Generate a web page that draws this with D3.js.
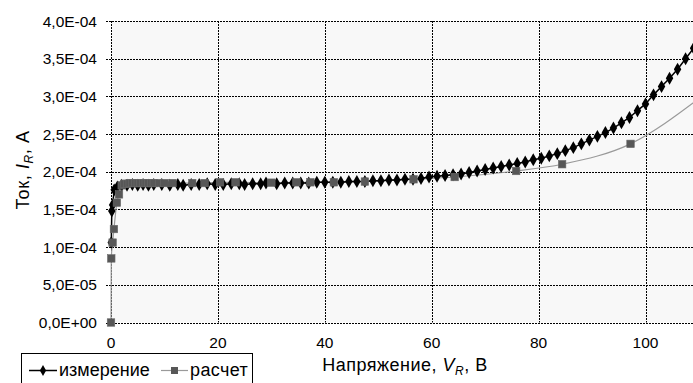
<!DOCTYPE html>
<html>
<head>
<meta charset="utf-8">
<script src="https://cdn.jsdelivr.net/npm/d3@7"></script>
<style>
  body { margin: 0; background: #fff; }
  svg text { font-family: "Liberation Sans", Arial, sans-serif; fill: #000; }
</style>
</head>
<body>
<div id="display"></div>
<script>
// measured reverse current, [V, I * 1e-4]
var measuredV = [0.05, 0.15, 0.3, 0.6, 1.2, 2.0, 3.0, 4.0, 5.0, 6.0, 7.0, 8.0, 9.5, 11.0, 12.5, 13.5,
    15.0, 16.5, 18.0, 19.5, 21.0, 22.5, 24.0, 25.0, 26.5, 28.0, 29.0, 31.0, 32.5, 34.0, 35.5, 37.0,
    38.5, 40.0, 41.5, 43.0, 44.5, 46.0, 47.5, 49.0, 50.5, 52.0, 53.5, 55.0, 56.5, 58.0, 59.5, 61.0,
    62.5, 64.0, 65.5, 67.0, 68.5, 70.0, 71.5, 73.0, 74.5, 76.0, 77.5, 79.0, 80.5, 82.0, 83.5, 85.0,
    86.5, 88.0, 89.5, 91.0, 92.5, 94.0, 95.5, 97.0, 98.5, 100.0, 101.5, 103.0, 104.5, 106.0, 107.5, 109.0];
var measuredI = [1.06, 1.48, 1.56, 1.76, 1.80, 1.82, 1.82, 1.83, 1.82, 1.83, 1.82, 1.83, 1.83, 1.82, 1.83, 1.82,
    1.83, 1.83, 1.84, 1.83, 1.83, 1.84, 1.84, 1.83, 1.84, 1.84, 1.85, 1.84, 1.85, 1.85, 1.85, 1.85,
    1.86, 1.86, 1.86, 1.86, 1.87, 1.87, 1.87, 1.88, 1.88, 1.89, 1.89, 1.90, 1.90, 1.91, 1.93, 1.94,
    1.95, 1.96, 1.97, 1.99, 2.01, 2.03, 2.05, 2.07, 2.09, 2.11, 2.13, 2.16, 2.18, 2.21, 2.24, 2.28,
    2.32, 2.37, 2.42, 2.47, 2.52, 2.58, 2.65, 2.72, 2.81, 2.90, 3.02, 3.13, 3.24, 3.36, 3.50, 3.64];

// calculated reverse current
var calcV = [0, 0.05, 0.3, 0.55, 1.1, 1.5, 2.0, 2.5, 3.0, 3.5, 4.0, 4.5, 5.0, 5.5, 6.0, 6.5, 7.0, 7.5,
    8.0, 9.0, 10.0, 11.5, 15.2, 17.5, 20.4, 23.3, 30.0, 34.7, 37.3, 41.7, 47.5, 56.6, 64.3, 75.8,
    84.4, 97.2, 110.0];
var calcI = [0, 0.85, 1.06, 1.24, 1.59, 1.70, 1.82, 1.84, 1.84, 1.85, 1.85, 1.85, 1.85, 1.85, 1.85, 1.85, 1.85, 1.85,
    1.85, 1.85, 1.85, 1.85, 1.85, 1.85, 1.86, 1.86, 1.855, 1.86, 1.86, 1.86, 1.87, 1.90, 1.93, 2.01,
    2.10, 2.37, 2.97];

var yTicks = [0, 0.5, 1.0, 1.5, 2.0, 2.5, 3.0, 3.5, 4.0];
var yTickLabels = ["0,0E+00", "5,0E-05", "1,0E-04", "1,5E-04", "2,0E-04", "2,5E-04", "3,0E-04", "3,5E-04", "4,0E-04"];
var xTicks = [0, 20, 40, 60, 80, 100];
var seriesNames = ["измерение", "расчет"];

var width = 693, height = 383;
var plot = { left: 111, top: 21, right: 700, bottom: 322.5 };

var svg = d3.select("#display").append("svg")
    .attr("width", width)
    .attr("height", height);

var x = d3.scaleLinear().domain([0, 110]).range([plot.left, plot.left + 110 * 5.345]);
var y = d3.scaleLinear().domain([0, 4]).range([plot.bottom, plot.top]);

// plot area background
svg.append("rect")
    .attr("x", plot.left).attr("y", plot.top)
    .attr("width", plot.right - plot.left).attr("height", plot.bottom - plot.top)
    .attr("fill", "#f8f8f8");

svg.append("clipPath").attr("id", "clip").append("rect")
    .attr("x", plot.left - 6).attr("y", plot.top - 6)
    .attr("width", plot.right - plot.left + 12).attr("height", plot.bottom - plot.top + 12);

// grid lines, dashed
var grid = svg.append("g").attr("stroke", "#000").attr("stroke-width", 1).attr("stroke-dasharray", "2,1");
grid.selectAll(".hgrid").data(yTicks).enter().append("line")
    .attr("x1", plot.left - 5).attr("x2", plot.right)
    .attr("y1", function (d) { return Math.round(y(d)) + 0.5; })
    .attr("y2", function (d) { return Math.round(y(d)) + 0.5; });
grid.selectAll(".vgrid").data(xTicks).enter().append("line")
    .attr("y1", plot.top).attr("y2", plot.bottom)
    .attr("x1", function (d) { return Math.round(x(d)) + 0.5; })
    .attr("x2", function (d) { return Math.round(x(d)) + 0.5; });

// tick labels
svg.selectAll(".ylab").data(yTicks).enter().append("text")
    .attr("x", 97).attr("y", function (d) { return y(d); })
    .attr("dy", "0.36em").attr("text-anchor", "end").attr("font-size", "15.5px")
    .text(function (d, i) { return yTickLabels[i]; });
svg.selectAll(".xlab").data(xTicks).enter().append("text")
    .attr("x", function (d) { return x(d); }).attr("y", 348)
    .attr("text-anchor", "middle").attr("font-size", "15.5px")
    .text(function (d) { return d; });

// axis titles
var xt = svg.append("text").attr("x", 405).attr("y", 371).attr("text-anchor", "middle")
    .attr("font-size", "18px").attr("letter-spacing", "0.5px");
xt.append("tspan").text("Напряжение, ");
xt.append("tspan").attr("font-style", "italic").text("V");
xt.append("tspan").attr("font-style", "italic").attr("font-size", "12px").attr("dy", 4).text("R");
xt.append("tspan").attr("dy", -4).text(", В");

var yt = svg.append("text").attr("transform", "translate(29,170) rotate(-90)")
    .attr("text-anchor", "middle").attr("font-size", "18px").attr("letter-spacing", "0.6px");
yt.append("tspan").text("Ток, ");
yt.append("tspan").attr("font-style", "italic").text("I");
yt.append("tspan").attr("font-style", "italic").attr("font-size", "12px").attr("dy", 4).text("R");
yt.append("tspan").attr("dy", -4).text(", А");

var measured = measuredV.map(function (v, i) { return [v, measuredI[i]]; });
var calc = calcV.map(function (v, i) { return [v, calcI[i]]; });

var series = svg.append("g").attr("clip-path", "url(#clip)");

// calculated: smooth gray line with squares
series.append("path")
    .attr("d", d3.line().x(function (d) { return x(d[0]); }).y(function (d) { return y(d[1]); })
        .curve(d3.curveMonotoneX)(calc))
    .attr("fill", "none").attr("stroke", "#9a9a9a").attr("stroke-width", 1.2);

// measured: black line with diamonds
series.append("path")
    .attr("d", d3.line().x(function (d) { return x(d[0]); }).y(function (d) { return y(d[1]); })(measured))
    .attr("fill", "none").attr("stroke", "#000").attr("stroke-width", 1.5);

var diamond = d3.symbol().type(d3.symbolDiamond).size(48);
series.selectAll(".dm").data(measured).enter().append("path")
    .attr("d", diamond)
    .attr("transform", function (d) { return "translate(" + x(d[0]) + "," + y(d[1]) + ")"; })
    .attr("fill", "#000");

series.selectAll(".sq").data(calc).enter().append("rect")
    .attr("x", function (d) { return x(d[0]) - 3.75; })
    .attr("y", function (d) { return y(d[1]) - 3.75; })
    .attr("width", 7.5).attr("height", 7.5)
    .attr("fill", "#575757").attr("stroke", "#6a6a6a").attr("stroke-width", 0.6);

// legend box at lower left
var lg = svg.append("g");
lg.append("rect").attr("x", 21.5).attr("y", 353.5).attr("width", 231).attr("height", 40)
    .attr("fill", "#fff").attr("stroke", "#000").attr("stroke-width", 1);
lg.append("line").attr("x1", 29).attr("x2", 57).attr("y1", 370.5).attr("y2", 370.5).attr("stroke", "#000").attr("stroke-width", 1.5);
lg.append("path").attr("d", d3.symbol().type(d3.symbolDiamond).size(34)).attr("transform", "translate(43,370.5)").attr("fill", "#000");
lg.append("text").attr("x", 59).attr("y", 376).attr("font-size", "18px").text(seriesNames[0]);
lg.append("line").attr("x1", 161).attr("x2", 188).attr("y1", 370.5).attr("y2", 370.5).attr("stroke", "#9a9a9a").attr("stroke-width", 1.2);
lg.append("rect").attr("x", 171).attr("y", 367).attr("width", 7).attr("height", 7).attr("fill", "#575757");
lg.append("text").attr("x", 190).attr("y", 376).attr("font-size", "18px").attr("letter-spacing", "0.4px").text(seriesNames[1]);
</script>
</body>
</html>
